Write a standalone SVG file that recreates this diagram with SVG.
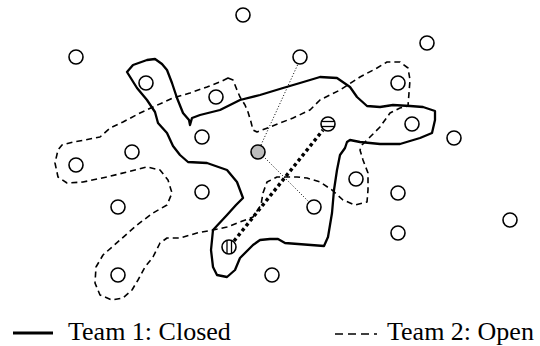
<svg xmlns="http://www.w3.org/2000/svg" width="540" height="346" viewBox="0 0 540 346">
<style>
.n{fill:#fff;stroke:#000;stroke-width:1.6}
.g{fill:#bdbdbd;stroke:#000;stroke-width:1.6}
.st{stroke:#000;stroke-width:1.3;fill:none}
.t1{fill:none;stroke:#000;stroke-width:2.3;stroke-linejoin:round;stroke-linecap:round}
.t2{fill:none;stroke:#000;stroke-width:1.6;stroke-dasharray:6 4;stroke-linejoin:round}
.thin{fill:none;stroke:#000;stroke-width:1;stroke-dasharray:1 2}
.thick{fill:none;stroke:#000;stroke-width:3.4;stroke-dasharray:3.4 3}
.lbl{font-family:"Liberation Serif","Times New Roman",serif;font-size:26px;fill:#000}
</style>
<rect width="540" height="346" fill="#fff"/>
<g id="regions">
<path id="team1" class="t1" d="M127,72 L133,65 L147,60 L155,59 L162,64 L167,70 L172,83 L177,98 L183,113 L189,120 L190,125 L192,118 L200,115 L220,110 L240,100 L260,95 L283,88 L300,83 L320,77 L337,78 L350,87 L357,97 L367,106 L380,107 L393,105 L410,106 L423,107 L435,111 L435,120 L432,133 L420,138 L400,144 L380,144 L360,142 L350,140 L347,142 L345,148 L340,155 L337,170 L334,190 L332,213 L328,237 L324,246 L285,243 L278,239 L270,239 L260,240 L253,245 L240,258 L235,270 L227,277 L217,275 L213,267 L211,250 L213,230 L227,215 L236,205 L243,198 L237,182 L227,170 L207,163 L188,162 L180,155 L173,146 L167,133 L158,123 L155,112 L147,100 L137,88 Z"/>
<path id="team2" class="t2" d="M228,78 L233,80 L237,90 L240,97 L245,105 L248,112 L251,122 L253,130 L257,132 L270,127 L280,123 L293,118 L310,110 L320,100 L340,90 L360,77 L377,68 L387,62 L400,62 L408,68 L410,80 L409,93 L408,106 L400,108 L390,113 L380,127 L370,137 L362,145 L360,150 L363,160 L368,173 L368,190 L367,202 L355,205 L343,200 L332,190 L320,182 L307,178 L297,177 L277,177 L267,182 L263,193 L261,205 L253,217 L240,222 L227,227 L213,230 L197,233 L180,238 L167,238 L160,243 L153,257 L145,267 L138,280 L132,290 L123,298 L112,300 L100,295 L95,283 L96,267 L103,255 L120,240 L137,225 L153,213 L167,205 L172,193 L168,180 L160,170 L147,167 L127,172 L107,177 L83,182 L67,183 L58,177 L55,163 L58,150 L62,145 L73,142 L85,140 L100,137 L110,128 L123,122 L140,113 L153,107 L173,98 L190,93 L207,87 L220,82 Z"/>
</g>
<g id="connectors">
<line class="thin" x1="261" y1="145" x2="298" y2="64"/>
<line class="thin" x1="263" y1="156" x2="308" y2="201"/>
<line class="thick" x1="234" y1="241" x2="323" y2="130"/>
</g>
<g id="nodes">
<g id="n1"><circle class="n" cx="243" cy="15" r="7"/></g>
<g id="n2"><circle class="n" cx="76" cy="57" r="7"/></g>
<g id="n3"><circle class="n" cx="146" cy="83" r="7"/></g>
<g id="n4"><circle class="n" cx="216" cy="97" r="7"/></g>
<g id="n5"><circle class="n" cx="202" cy="137" r="7"/></g>
<g id="n6"><circle class="n" cx="300" cy="57" r="7"/></g>
<g id="n7"><circle class="n" cx="427" cy="43" r="7"/></g>
<g id="n8"><circle class="n" cx="398" cy="83" r="7"/></g>
<g id="n9"><circle class="n" cx="412" cy="124" r="7"/></g>
<g id="n10"><circle class="n" cx="454" cy="138" r="7"/></g>
<g id="n11"><circle class="n" cx="328" cy="124" r="7"/><line class="st" x1="322" y1="121.5" x2="334" y2="121.5"/><line class="st" x1="322" y1="126.5" x2="334" y2="126.5"/></g>
<g id="n12"><circle class="g" cx="258" cy="152" r="7"/></g>
<g id="n13"><circle class="n" cx="132" cy="152" r="7"/></g>
<g id="n14"><circle class="n" cx="76" cy="165" r="7"/></g>
<g id="n15"><circle class="n" cx="202" cy="192" r="7"/></g>
<g id="n16"><circle class="n" cx="118" cy="207" r="7"/></g>
<g id="n17"><circle class="n" cx="229" cy="247" r="7"/><line class="st" x1="227" y1="241" x2="227" y2="253"/><line class="st" x1="231.5" y1="241" x2="231.5" y2="253"/></g>
<g id="n18"><circle class="n" cx="118" cy="275" r="7"/></g>
<g id="n19"><circle class="n" cx="272" cy="275" r="7"/></g>
<g id="n20"><circle class="n" cx="314" cy="207" r="7"/></g>
<g id="n21"><circle class="n" cx="356" cy="179" r="7"/></g>
<g id="n22"><circle class="n" cx="398" cy="193" r="7"/></g>
<g id="n23"><circle class="n" cx="398" cy="233" r="7"/></g>
<g id="n24"><circle class="n" cx="510" cy="220" r="7"/></g>
</g>
<g id="legend">
<line x1="13" y1="333" x2="53" y2="333" stroke="#000" stroke-width="3"/>
<text class="lbl" x="68" y="340">Team 1: Closed</text>
<line x1="335" y1="334" x2="377" y2="334" stroke="#000" stroke-width="1.6" stroke-dasharray="8 5"/>
<text class="lbl" x="387" y="340">Team 2: Open</text>
</g>
</svg>
